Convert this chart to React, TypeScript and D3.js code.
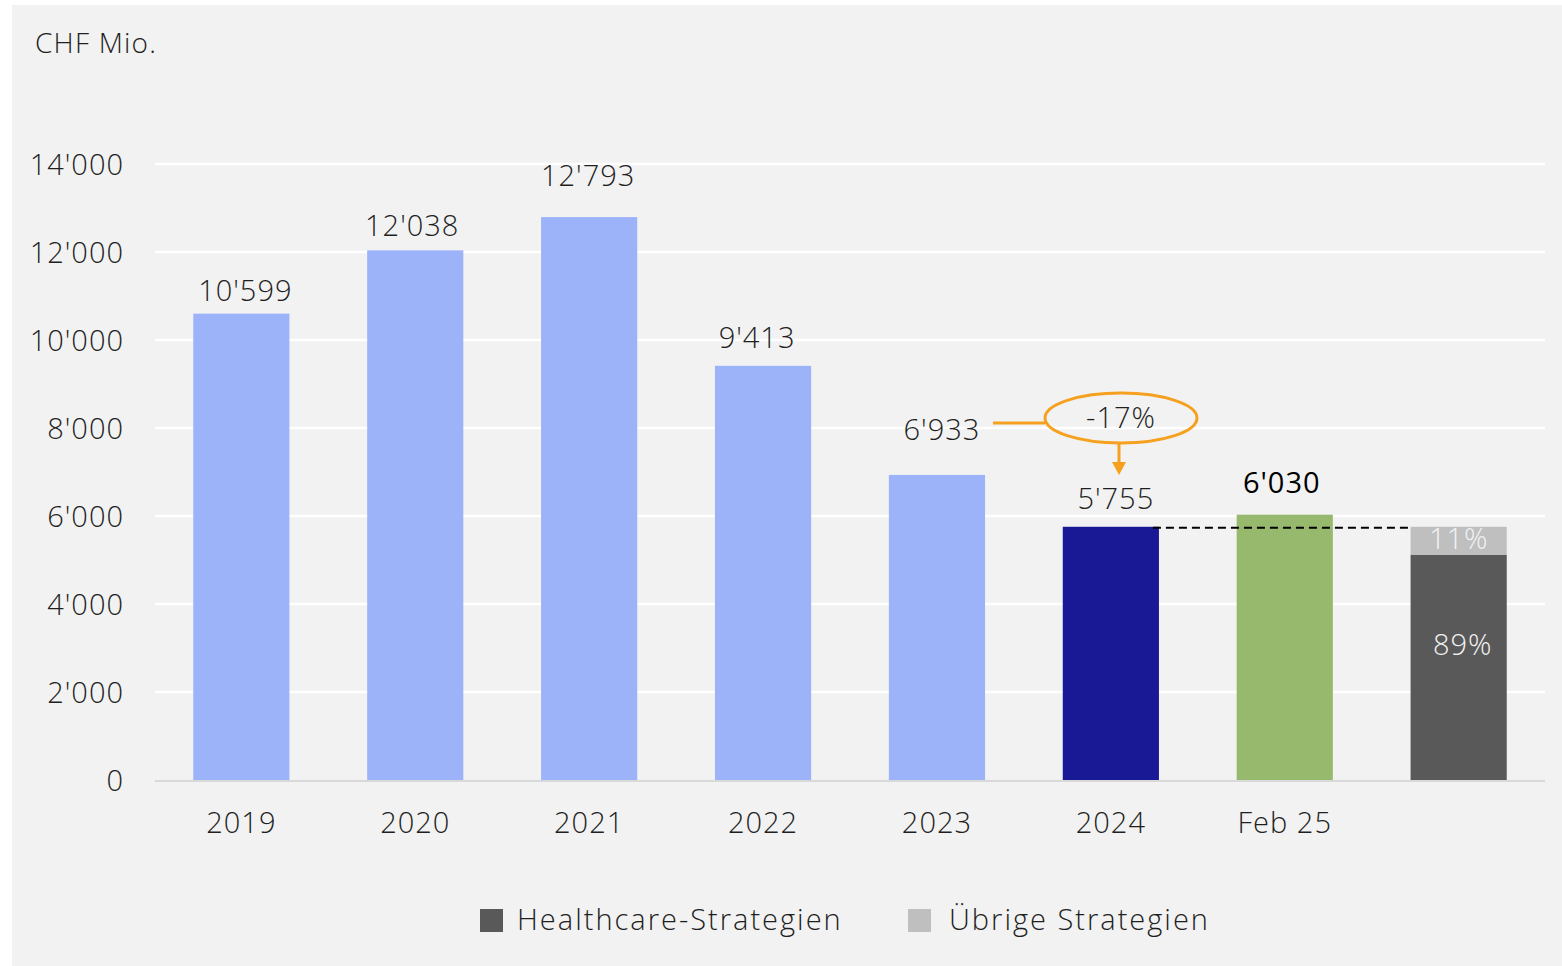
import React from "react";
import * as d3 from "d3";

const categories = ["2019", "2020", "2021", "2022", "2023", "2024", "Feb 25", ""];
const totals = [10599, 12038, 12793, 9413, 6933, 5755, 6030];
const valueLabels = ["10'599", "12'038", "12'793", "9'413", "6'933", "5'755", "6'030"];
const stackShares = [0.89, 0.11];
const stackLabels = ["89%", "11%"];
const stackTotal = 5755;
const yTicks = [0, 2000, 4000, 6000, 8000, 10000, 12000, 14000];
const yTickLabels = ["0", "2'000", "4'000", "6'000", "8'000", "10'000", "12'000", "14'000"];
const legendLabels = ["Healthcare-Strategien", "Übrige Strategien"];
const changeLabel = "-17%";
const unitLabel = "CHF Mio.";

// layout tweaks (label placement above bars)
const labelLift = [23, 24, 41, 28, 45, 28, 32];
const labelShift = [4, -3, -1, -6, 5, 5, -3];

const W = 1562;
const H = 966;
const FONT = "'Open Sans', 'Noto Sans', sans-serif";
const barColors = ["#9db3f9", "#9db3f9", "#9db3f9", "#9db3f9", "#9db3f9", "#191996", "#97b96e"];
const stackColors = ["#595959", "#bfbfbf"];
const orange = "#f5a11f";
const TXT = "#1f1f1f";

export default function App() {
  const keys = categories.map((c, i) => c + "_" + i);
  const x = d3.scaleBand<string>().domain(keys).range([155, 1545]).paddingInner(0.447).paddingOuter(0.22);
  const y = d3.scaleLinear().domain([0, 14000]).range([780, 164]);
  const bw = x.bandwidth();

  const stackData = [{ a: stackShares[0] * stackTotal, b: stackShares[1] * stackTotal }];
  const stacked = d3.stack<any>().keys(["a", "b"])(stackData);
  const sx = x(keys[7])!;

  const x2023 = x(keys[4])!;
  const x2024 = x(keys[5])!;
  const ellCx = 1121;
  const ellCy = 418;

  return (
    <svg width={W} height={H} style={{ position: "absolute", left: 0, top: 0 }} fontFamily={FONT}>
      <rect x={0} y={0} width={W} height={H} fill="#ffffff" />
      <rect x={12} y={5} width={W - 12} height={H - 5} fill="#f2f2f2" />
      <text x={35} y={53} fontSize={28} fontWeight={300} letterSpacing={1.2} fill={TXT}>{unitLabel}</text>

      {yTicks.map((t, i) => (
        <g key={t}>
          {t > 0 && <line x1={155} x2={1545} y1={y(t)} y2={y(t)} stroke="#ffffff" strokeWidth={2.5} />}
          <text x={124} y={y(t) + 1} dy="0.35em" textAnchor="end" fontSize={29} fontWeight={300} letterSpacing={1} fill={TXT}>{yTickLabels[i]}</text>
        </g>
      ))}

      {totals.map((v, i) => (
        <g key={i}>
          <rect x={x(keys[i])} y={y(v)} width={bw} height={y(0) - y(v)} fill={barColors[i]} />
          <text
            x={x(keys[i])! + bw / 2 + labelShift[i]}
            y={y(v) - labelLift[i]}
            dy="0.35em"
            textAnchor="middle"
            fontSize={29}
            fontWeight={i === 6 ? 400 : 300}
            letterSpacing={1}
            fill={i === 6 ? "#000" : TXT}
          >
            {valueLabels[i]}
          </text>
        </g>
      ))}

      {stacked.map((s, k) => (
        <rect key={k} x={sx} y={y(s[0][1])} width={bw} height={y(s[0][0]) - y(s[0][1])} fill={stackColors[k]} />
      ))}
      <text x={sx + bw / 2 + 4} y={645} dy="0.35em" textAnchor="middle" fontSize={29} fontWeight={300} letterSpacing={1} fill="#f2f2f2">{stackLabels[0]}</text>
      <text x={sx + bw / 2} y={y(stacked[1][0][1]) + 12} dy="0.35em" textAnchor="middle" fontSize={29} fontWeight={300} letterSpacing={1} fill="#f2f2f2">{stackLabels[1]}</text>

      <line x1={155} x2={1545} y1={y(0) + 1} y2={y(0) + 1} stroke="#d9d9d9" strokeWidth={2} />

      {/* dashed reference line at 2024 level */}
      <line x1={x2024 + bw - 6} x2={sx} y1={y(5755) + 1} y2={y(5755) + 1} stroke="#000" strokeWidth={2} strokeDasharray="8 5" />

      {/* annotation */}
      <line x1={x2023 + bw + 8} x2={ellCx - 76} y1={ellCy + 5} y2={ellCy + 5} stroke={orange} strokeWidth={3} />
      <ellipse cx={ellCx} cy={ellCy} rx={76} ry={25} fill="none" stroke={orange} strokeWidth={3} />
      <text x={ellCx} y={ellCy} dy="0.35em" textAnchor="middle" fontSize={29} fontWeight={300} letterSpacing={1} fill={TXT}>{changeLabel}</text>
      <line x1={ellCx - 2} x2={ellCx - 2} y1={ellCy + 25} y2={ellCy + 46} stroke={orange} strokeWidth={3} />
      <path d={`M${ellCx - 9},${ellCy + 44} L${ellCx + 5},${ellCy + 44} L${ellCx - 2},${ellCy + 57} Z`} fill={orange} />

      {categories.map((c, i) => (
        <text key={i} x={x(keys[i])! + bw / 2} y={823} dy="0.35em" textAnchor="middle" fontSize={29} fontWeight={300} letterSpacing={1} fill={TXT}>{c}</text>
      ))}

      {legendLabels.map((l, i) => {
        const lx = i === 0 ? 480 : 908;
        return (
          <g key={l}>
            <rect x={lx} y={909} width={23} height={23} fill={stackColors[i]} />
            <text x={lx + (i === 0 ? 37 : 41)} y={920} dy="0.35em" fontSize={29} fontWeight={300} letterSpacing={2} fill={TXT}>{l}</text>
          </g>
        );
      })}
    </svg>
  );
}
